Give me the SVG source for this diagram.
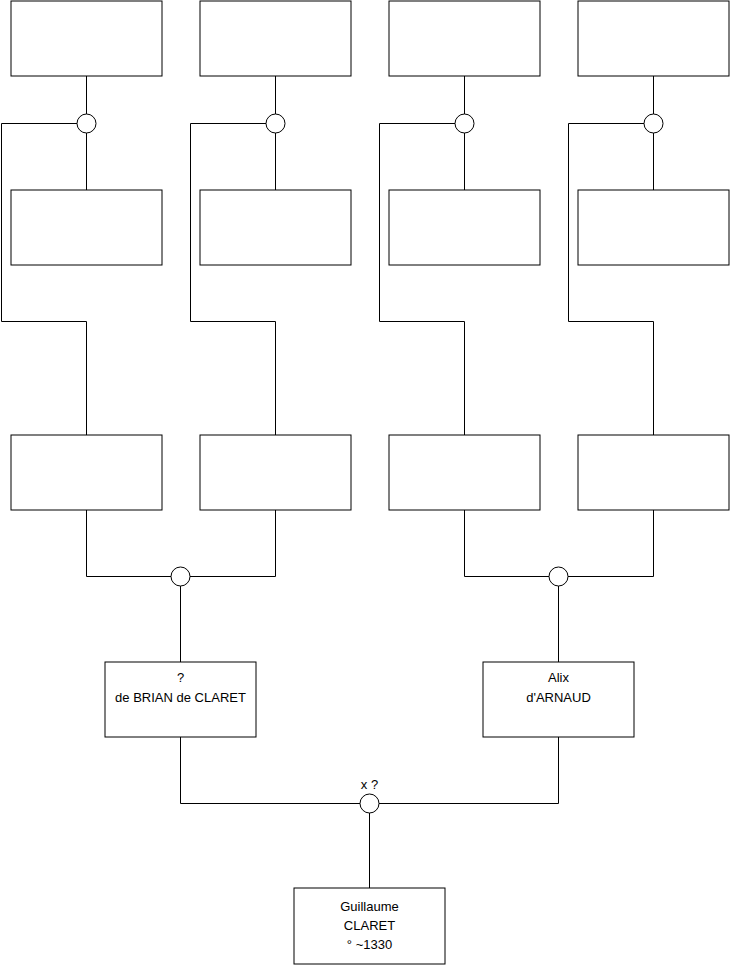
<svg xmlns="http://www.w3.org/2000/svg" width="740" height="975" viewBox="0 0 740 975">
<style>
.box{fill:#fff;stroke:#000;stroke-width:1}
.ln{fill:none;stroke:#000;stroke-width:1}
.c{fill:#fff;stroke:#000;stroke-width:1}
text{font-family:"Liberation Sans",Arial,sans-serif;font-size:13px;fill:#000;text-anchor:middle}
</style>
<rect width="740" height="975" fill="#fff"/>
<g id="connectors">
<path class="ln" d="M86.5,76V114M86.5,133V190M77,123.5H1.5V321.5H86.5V435"/>
<path class="ln" d="M275.5,76V114M275.5,133V190M266,123.5H190.5V321.5H275.5V435"/>
<path class="ln" d="M464.5,76V114M464.5,133V190M455,123.5H379.5V321.5H464.5V435"/>
<path class="ln" d="M653.5,76V114M653.5,133V190M644,123.5H568.5V321.5H653.5V435"/>
<path class="ln" d="M86.5,510V576.5H171M275.5,510V576.5H190M180.5,586V662"/>
<path class="ln" d="M464.5,510V576.5H549M653.5,510V576.5H568M558.5,586V662"/>
<path class="ln" d="M180.5,737V803.5H360M558.5,737V803.5H379M369.5,813V888"/>
</g>
<g id="unions">
<circle class="c" cx="86.5" cy="123.5" r="9.5"/>
<circle class="c" cx="275.5" cy="123.5" r="9.5"/>
<circle class="c" cx="464.5" cy="123.5" r="9.5"/>
<circle class="c" cx="653.5" cy="123.5" r="9.5"/>
<circle class="c" cx="180.5" cy="576.5" r="9.5"/>
<circle class="c" cx="558.5" cy="576.5" r="9.5"/>
<g id="union-main"><circle class="c" cx="369.5" cy="803.5" r="9.5"/><text x="369.5" y="789">x ?</text></g>
</g>
<g id="n1"><rect class="box" x="11" y="1" width="151" height="75"/></g>
<g id="n2"><rect class="box" x="200" y="1" width="151" height="75"/></g>
<g id="n3"><rect class="box" x="389" y="1" width="151" height="75"/></g>
<g id="n4"><rect class="box" x="578" y="1" width="151" height="75"/></g>
<g id="n5"><rect class="box" x="11" y="190" width="151" height="75"/></g>
<g id="n6"><rect class="box" x="200" y="190" width="151" height="75"/></g>
<g id="n7"><rect class="box" x="389" y="190" width="151" height="75"/></g>
<g id="n8"><rect class="box" x="578" y="190" width="151" height="75"/></g>
<g id="n9"><rect class="box" x="11" y="435" width="151" height="75"/></g>
<g id="n10"><rect class="box" x="200" y="435" width="151" height="75"/></g>
<g id="n11"><rect class="box" x="389" y="435" width="151" height="75"/></g>
<g id="n12"><rect class="box" x="578" y="435" width="151" height="75"/></g>
<g id="father"><rect class="box" x="105" y="662" width="151" height="75"/><text x="180.5" y="682">?</text><text x="180.5" y="702">de BRIAN de CLARET</text></g>
<g id="mother"><rect class="box" x="483" y="662" width="151" height="75"/><text x="558.5" y="682">Alix</text><text x="558.5" y="702">d'ARNAUD</text></g>
<g id="guillaume"><rect class="box" x="294" y="888" width="151" height="76"/><text x="369.5" y="911">Guillaume</text><text x="369.5" y="930">CLARET</text><text x="369.5" y="949">° ~1330</text></g>
</svg>
